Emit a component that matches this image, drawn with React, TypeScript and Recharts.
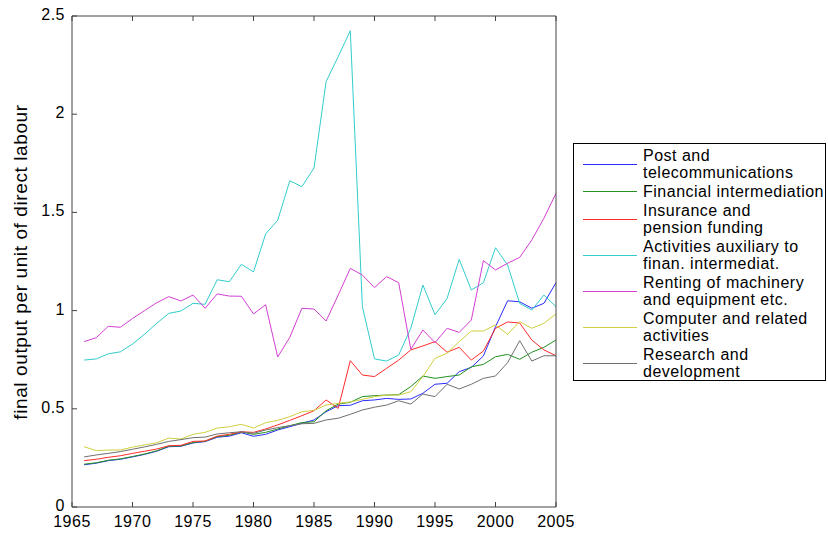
import React from 'react';
import { LineChart, Line, XAxis, YAxis, Legend } from 'recharts';

const years = [1966, 1967, 1968, 1969, 1970, 1971, 1972, 1973, 1974, 1975, 1976, 1977, 1978, 1979, 1980, 1981, 1982, 1983, 1984, 1985, 1986, 1987, 1988, 1989, 1990, 1991, 1992, 1993, 1994, 1995, 1996, 1997, 1998, 1999, 2000, 2001, 2002, 2003, 2004, 2005];

const post = [0.215, 0.223, 0.236, 0.243, 0.255, 0.268, 0.284, 0.307, 0.309, 0.326, 0.333, 0.355, 0.361, 0.378, 0.36, 0.37, 0.392, 0.409, 0.426, 0.443, 0.485, 0.516, 0.518, 0.541, 0.545, 0.553, 0.548, 0.55, 0.579, 0.625, 0.63, 0.689, 0.711, 0.769, 0.918, 1.05, 1.045, 1.012, 1.037, 1.142];
const financial = [0.218, 0.225, 0.238, 0.245, 0.257, 0.27, 0.286, 0.309, 0.311, 0.328, 0.335, 0.358, 0.365, 0.382, 0.37, 0.38, 0.397, 0.414, 0.43, 0.434, 0.49, 0.524, 0.533, 0.562, 0.567, 0.57, 0.572, 0.613, 0.667, 0.655, 0.664, 0.672, 0.714, 0.726, 0.765, 0.777, 0.752, 0.788, 0.813, 0.85];
const insurance = [0.236, 0.243, 0.253, 0.261, 0.273, 0.284, 0.295, 0.312, 0.314, 0.334, 0.336, 0.361, 0.37, 0.383, 0.38, 0.397, 0.418, 0.441, 0.465, 0.49, 0.545, 0.502, 0.745, 0.672, 0.664, 0.706, 0.748, 0.8, 0.82, 0.842, 0.788, 0.813, 0.748, 0.794, 0.91, 0.942, 0.937, 0.85, 0.8, 0.77];
const auxiliary = [0.748, 0.754, 0.78, 0.79, 0.83, 0.88, 0.935, 0.986, 0.998, 1.037, 1.032, 1.157, 1.147, 1.236, 1.197, 1.39, 1.46, 1.661, 1.631, 1.726, 2.166, 2.293, 2.425, 1.02, 0.754, 0.743, 0.774, 0.91, 1.13, 0.979, 1.062, 1.261, 1.105, 1.142, 1.32, 1.232, 1.037, 1.003, 1.079, 1.02];
const renting = [0.842, 0.862, 0.92, 0.915, 0.96, 1.0, 1.04, 1.071, 1.049, 1.079, 1.012, 1.085, 1.074, 1.073, 0.983, 1.03, 0.764, 0.864, 1.012, 1.008, 0.947, 1.079, 1.215, 1.181, 1.117, 1.173, 1.142, 0.803, 0.901, 0.837, 0.91, 0.889, 0.952, 1.254, 1.207, 1.241, 1.271, 1.36, 1.47, 1.597];
const computer = [0.307, 0.287, 0.29, 0.29, 0.305, 0.316, 0.327, 0.351, 0.346, 0.37, 0.38, 0.402, 0.409, 0.421, 0.402, 0.429, 0.441, 0.46, 0.485, 0.492, 0.519, 0.528, 0.535, 0.548, 0.562, 0.57, 0.57, 0.587, 0.664, 0.757, 0.783, 0.842, 0.896, 0.896, 0.927, 0.879, 0.944, 0.91, 0.935, 0.983];
const research = [0.255, 0.265, 0.273, 0.282, 0.294, 0.306, 0.319, 0.334, 0.343, 0.353, 0.356, 0.372, 0.378, 0.383, 0.375, 0.392, 0.404, 0.414, 0.424, 0.426, 0.443, 0.452, 0.472, 0.494, 0.508, 0.519, 0.541, 0.524, 0.575, 0.562, 0.625, 0.601, 0.625, 0.655, 0.667, 0.735, 0.847, 0.743, 0.77, 0.77];

const xTicks = [1965, 1970, 1975, 1980, 1985, 1990, 1995, 2000, 2005];
const yTicks = [0, 0.5, 1, 1.5, 2, 2.5];

const series = [
  { key: 'post', name: 'Post and\ntelecommunications', color: '#2b2bff', values: post },
  { key: 'financial', name: 'Financial intermediation', color: '#229022', values: financial },
  { key: 'insurance', name: 'Insurance and\npension funding', color: '#ff2b2b', values: insurance },
  { key: 'auxiliary', name: 'Activities auxiliary to\nfinan. intermediat.', color: '#33cccc', values: auxiliary },
  { key: 'renting', name: 'Renting of machinery\nand equipment etc.', color: '#d23fd2', values: renting },
  { key: 'computer', name: 'Computer and related\nactivities', color: '#d0d040', values: computer },
  { key: 'research', name: 'Research and\ndevelopment', color: '#707070', values: research },
];

const data = years.map((year, i) => {
  const row: Record<string, number> = { year };
  series.forEach((s) => {
    row[s.key] = s.values[i];
  });
  return row;
});

const FONT = '"Liberation Sans", Arial, Helvetica, sans-serif';
const AXIS = '#444';

const BottomTick = (props: any) => {
  const { x, y, payload } = props;
  return (
    <g>
      <line x1={x} x2={x} y1={y} y2={y - 5} stroke={AXIS} strokeWidth={1} />
      <text x={x} y={y + 20} textAnchor="middle" fontSize={16} letterSpacing={0.5} fill="#000" fontFamily={FONT}>
        {payload.value}
      </text>
    </g>
  );
};

const TopTick = (props: any) => {
  const { x, y } = props;
  return <line x1={x} x2={x} y1={y} y2={y + 5} stroke={AXIS} strokeWidth={1} />;
};

const LeftTick = (props: any) => {
  const { x, y, payload } = props;
  return (
    <g>
      <line x1={x} x2={x + 5} y1={y} y2={y} stroke={AXIS} strokeWidth={1} />
      <text x={x - 7} y={y + 4} textAnchor="end" fontSize={16} letterSpacing={0.5} fill="#000" fontFamily={FONT}>
        {String(payload.value)}
      </text>
    </g>
  );
};

const RightTick = (props: any) => {
  const { x, y } = props;
  return <line x1={x} x2={x - 5} y1={y} y2={y} stroke={AXIS} strokeWidth={1} />;
};

const LegendBox = () => (
  <div
    style={{
      border: '1px solid #000',
      background: '#fff',
      width: 253,
      height: 238,
      boxSizing: 'border-box',
      paddingTop: 3,
      fontFamily: FONT,
      fontSize: 16,
      letterSpacing: 0.5,
      color: '#000',
    }}
  >
    {series.map((s) => (
      <div key={s.key} style={{ display: 'flex', alignItems: 'center', marginBottom: 2 }}>
        <div style={{ width: 54, height: 0, borderTop: `1px solid ${s.color}`, marginLeft: 9, marginRight: 6 }} />
        <div style={{ whiteSpace: 'pre-line', lineHeight: '17px' }}>{s.name}</div>
      </div>
    ))}
  </div>
);

export default function App() {
  return (
    <div style={{ position: 'absolute', left: 0, top: 0, width: 828, height: 533, background: '#fff' }}>
      <LineChart width={828} height={533} data={data} margin={{ top: 15, right: 271, bottom: 0, left: 0 }}>
        <XAxis
          dataKey="year"
          type="number"
          domain={[1965, 2005]}
          ticks={xTicks}
          height={26}
          tickSize={0}
          tickMargin={0}
          stroke={AXIS}
          tick={<BottomTick />}
          interval={0}
        />
        <XAxis
          xAxisId="top"
          dataKey="year"
          type="number"
          orientation="top"
          domain={[1965, 2005]}
          ticks={xTicks}
          height={1}
          tickSize={0}
          tickMargin={0}
          stroke={AXIS}
          tick={<TopTick />}
          interval={0}
        />
        <YAxis
          type="number"
          domain={[0, 2.5]}
          ticks={yTicks}
          width={72}
          tickSize={0}
          tickMargin={0}
          stroke={AXIS}
          tick={<LeftTick />}
          interval={0}
          label={() => (
            <text
              x={27}
              y={262}
              transform="rotate(-90 27 262)"
              textAnchor="middle"
              fontSize={19}
              letterSpacing={0.6}
              fill="#000"
              fontFamily={FONT}
            >
              final output per unit of direct labour
            </text>
          )}
        />
        <YAxis
          yAxisId="right"
          type="number"
          orientation="right"
          domain={[0, 2.5]}
          ticks={yTicks}
          width={1}
          tickSize={0}
          tickMargin={0}
          stroke={AXIS}
          tick={<RightTick />}
          interval={0}
        />
        <Legend
          layout="vertical"
          align="center"
          verticalAlign="middle"
          content={<LegendBox />}
          wrapperStyle={{ left: 573, top: 143, width: 253, height: 238 }}
        />
        {series.map((s) => (
          <Line
            key={s.key}
            dataKey={s.key}
            name={s.name}
            stroke={s.color}
            strokeWidth={1}
            dot={false}
            activeDot={false}
            isAnimationActive={false}
            type="linear"
          />
        ))}
      </LineChart>
    </div>
  );
}
